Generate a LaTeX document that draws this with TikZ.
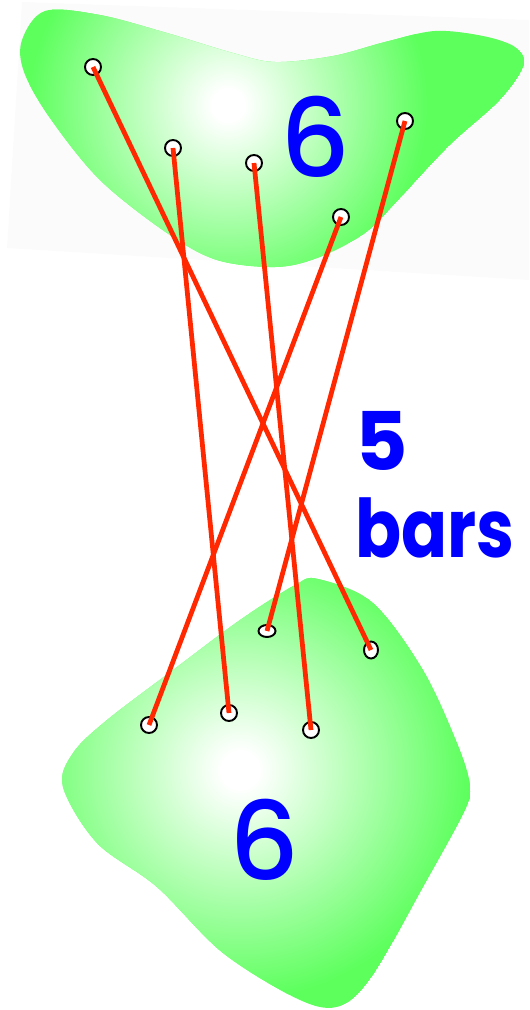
\documentclass[tikz,border=0pt]{standalone}
\usepackage{fontspec}
\usetikzlibrary{shapes.geometric}
\newfontfamily\pop{Poppins}
\newfontfamily\popm{Poppins Medium}
\definecolor{bgreen}{RGB}{92,255,92}
\definecolor{barred}{RGB}{255,40,0}
\definecolor{numblue}{RGB}{0,0,255}
\pgfdeclareradialshading{blobshade}{\pgfpoint{0bp}{0bp}}{color(0bp)=(white); color(2bp)=(white); color(25bp)=(bgreen); color(50bp)=(bgreen)}
\tikzset{
  pt/.style={circle, draw=black, fill=white, line width=1.1pt, minimum size=0.32cm, inner sep=0pt},
  ptell/.style={ellipse, draw=black, fill=white, line width=1.1pt, inner sep=0pt},
  bar/.style={draw=barred, line width=2.7pt},
  num/.style={text=numblue, inner sep=0pt, font=\popm\fontsize{62}{62}\selectfont},
  lbl/.style={text=numblue, inner sep=0pt, anchor=base west, font=\pop\bfseries\fontsize{46}{46}\selectfont}
}
\begin{document}
\begin{tikzpicture}[x=0.02cm, y=-0.02cm]
\useasboundingbox (0,0) rectangle (529,1010);
% faint backdrop behind top blob
\fill[black!1.5] (22,2) -- (529,20) -- (529,280) -- (7,248) -- cycle;
% top blob
\def\topblob{plot[smooth cycle, tension=0.55] coordinates {(22,40) (45,11) (100,15) (167,33) (233,53) (275,62) (333,56) (385,42) (435,31) (483,36) (515,47) (524,65) (500,100) (450,145) (400,198) (365,233) (317,258) (275,267) (217,260) (167,233) (100,180) (50,118) (24,72)}}
\begin{scope}
  \clip \topblob;
  \fill[bgreen] \topblob;
  \shade[shading=blobshade] (228,105) circle (4.0cm);
\end{scope}
% bottom blob
\def\botblob{plot[smooth cycle, tension=0.55] coordinates {(318,579) (373,603) (423,670) (457,743) (470,785) (465,810) (423,887) (373,975) (340,1006) (300,1000) (223,953) (157,887) (97,843) (63,787) (73,753) (107,720) (173,670) (240,620) (295,585)}}
\begin{scope}
  \clip \botblob;
  \fill[bgreen] \botblob;
  \shade[shading=blobshade] (240,770) circle (4.6cm);
\end{scope}
% labels
\node[num] (n1) at (315,137) {6};
\node[num] (n2) at (264,840) {6};
\node[lbl] (five) at (355,470) {5};
\node[lbl] (bars) at (355,557) {\scalebox{0.84}[1]{bars}};
% points
\node[pt] (a1) at (93,67) {};
\node[pt] (a2) at (173,148) {};
\node[pt] (a3) at (254,163) {};
\node[pt] (a4) at (341,217) {};
\node[pt] (a5) at (405,121) {};
\node[pt] (b1) at (149,725) {};
\node[pt] (b2) at (229,713) {};
\node[pt] (b3) at (311,730) {};
\node[ptell, minimum height=0.24cm, minimum width=0.34cm] (b4) at (267,631) {};
\node[ptell, minimum height=0.34cm, minimum width=0.28cm] (b5) at (371,650) {};
% bars
\draw[bar] (a1.center) -- (b5.center);
\draw[bar] (a2.center) -- (b2.center);
\draw[bar] (a3.center) -- (b3.center);
\draw[bar] (a4.center) -- (b1.center);
\draw[bar] (a5.center) -- (b4.center);
\end{tikzpicture}
\end{document}
